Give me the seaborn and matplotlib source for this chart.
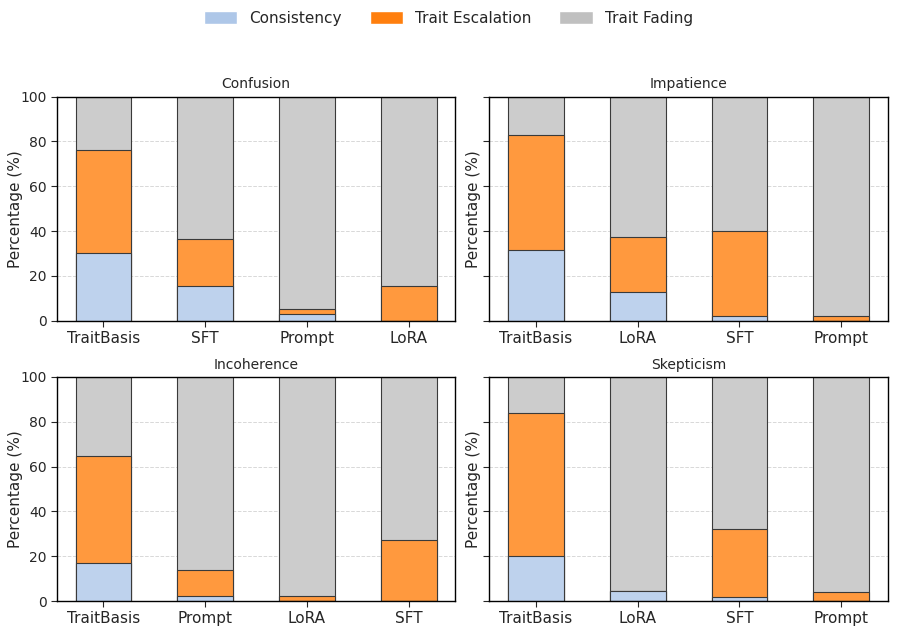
import numpy as np
import pandas as pd
import matplotlib
matplotlib.use("Agg")
import matplotlib.pyplot as plt
from matplotlib.patches import Patch
import seaborn as sns

# Data (percentages)
traits = ["Confusion", "Impatience", "Incoherence", "Skepticism"]
methods = {
    "Confusion": ["TraitBasis", "SFT", "Prompt", "LoRA"],
    "Impatience": ["TraitBasis", "LoRA", "SFT", "Prompt"],
    "Incoherence": ["TraitBasis", "Prompt", "LoRA", "SFT"],
    "Skepticism": ["TraitBasis", "LoRA", "SFT", "Prompt"],
}
consistency = {
    "Confusion": [30.0, 15.3, 3.1, 0.0],
    "Impatience": [31.7, 12.6, 1.9, 0.0],
    "Incoherence": [16.8, 2.1, 0.0, 0.0],
    "Skepticism": [20.2, 4.5, 1.9, 0.0],
}
escalation = {
    "Confusion": [46.0, 21.3, 2.0, 15.3],
    "Impatience": [51.3, 24.9, 38.3, 1.9],
    "Incoherence": [47.9, 11.7, 2.4, 27.1],
    "Skepticism": [63.6, 0.0, 30.4, 3.9],
}

# legend colours and the lighter (alpha 0.8 on white) bar colours
legend_colors = {"Consistency": "#aec7e8", "Trait Escalation": "#ff7f0e", "Trait Fading": "#c0c0c0"}
bar_colors = {"Consistency": "#bed2ed", "Trait Escalation": "#ff993e", "Trait Fading": "#cccccc"}

sns.set_style("white")
plt.rcParams["font.family"] = ["DejaVu Sans"]

fig = plt.figure(figsize=(8.97, 6.3), dpi=100)
positions = [
    [0.0632, 0.491, 0.4444, 0.3556],
    [0.5455, 0.491, 0.4444, 0.3556],
    [0.0632, 0.046, 0.4444, 0.3556],
    [0.5455, 0.046, 0.4444, 0.3556],
]

for i, trait in enumerate(traits):
    ax = fig.add_axes(positions[i])
    m = methods[trait]
    cons = np.array(consistency[trait])
    esc = np.array(escalation[trait])
    fading = 100 - cons - esc
    df = pd.DataFrame({
        "method": m,
        "total": cons + esc + fading,
        "cons_esc": cons + esc,
        "cons": cons,
    })
    # stacked look: draw cumulative heights from tallest to shortest
    for col, c in [("total", bar_colors["Trait Fading"]),
                   ("cons_esc", bar_colors["Trait Escalation"]),
                   ("cons", bar_colors["Consistency"])]:
        sns.barplot(data=df, x="method", y=col, order=m, color=c, saturation=1,
                    edgecolor="#3a3a3a", linewidth=0.8, width=0.55, ax=ax)
    ax.set_ylim(0, 100)
    ax.set_xlim(-0.46, 3.46)
    ax.set_title(trait, fontsize=10)
    ax.set_xlabel("")
    ax.set_ylabel("Percentage (%)", fontsize=11)
    ax.set_yticks([0, 20, 40, 60, 80, 100])
    ax.tick_params(axis="x", labelsize=11, length=4)
    ax.tick_params(axis="y", labelsize=10, length=4, pad=3)
    ax.tick_params(left=True, bottom=True)
    if i % 2 == 1:
        ax.set_yticklabels([])
        ax.yaxis.set_label_coords(-0.02, 0.5)
    else:
        ax.yaxis.set_label_coords(-0.085, 0.5)
    ax.yaxis.grid(True, linestyle="--", color="#d8d8d8", linewidth=0.7)
    ax.set_axisbelow(True)
    for s in ax.spines.values():
        s.set_color("black")
        s.set_linewidth(1.0)

handles = [Patch(facecolor=legend_colors[k], label=k) for k in legend_colors]
fig.legend(handles=handles, loc="upper center", ncol=3, frameon=False,
           fontsize=11, bbox_to_anchor=(0.5, 1.005), columnspacing=1.8,
           handlelength=2.2, handleheight=0.9)

fig.savefig("out.png", dpi=100)
